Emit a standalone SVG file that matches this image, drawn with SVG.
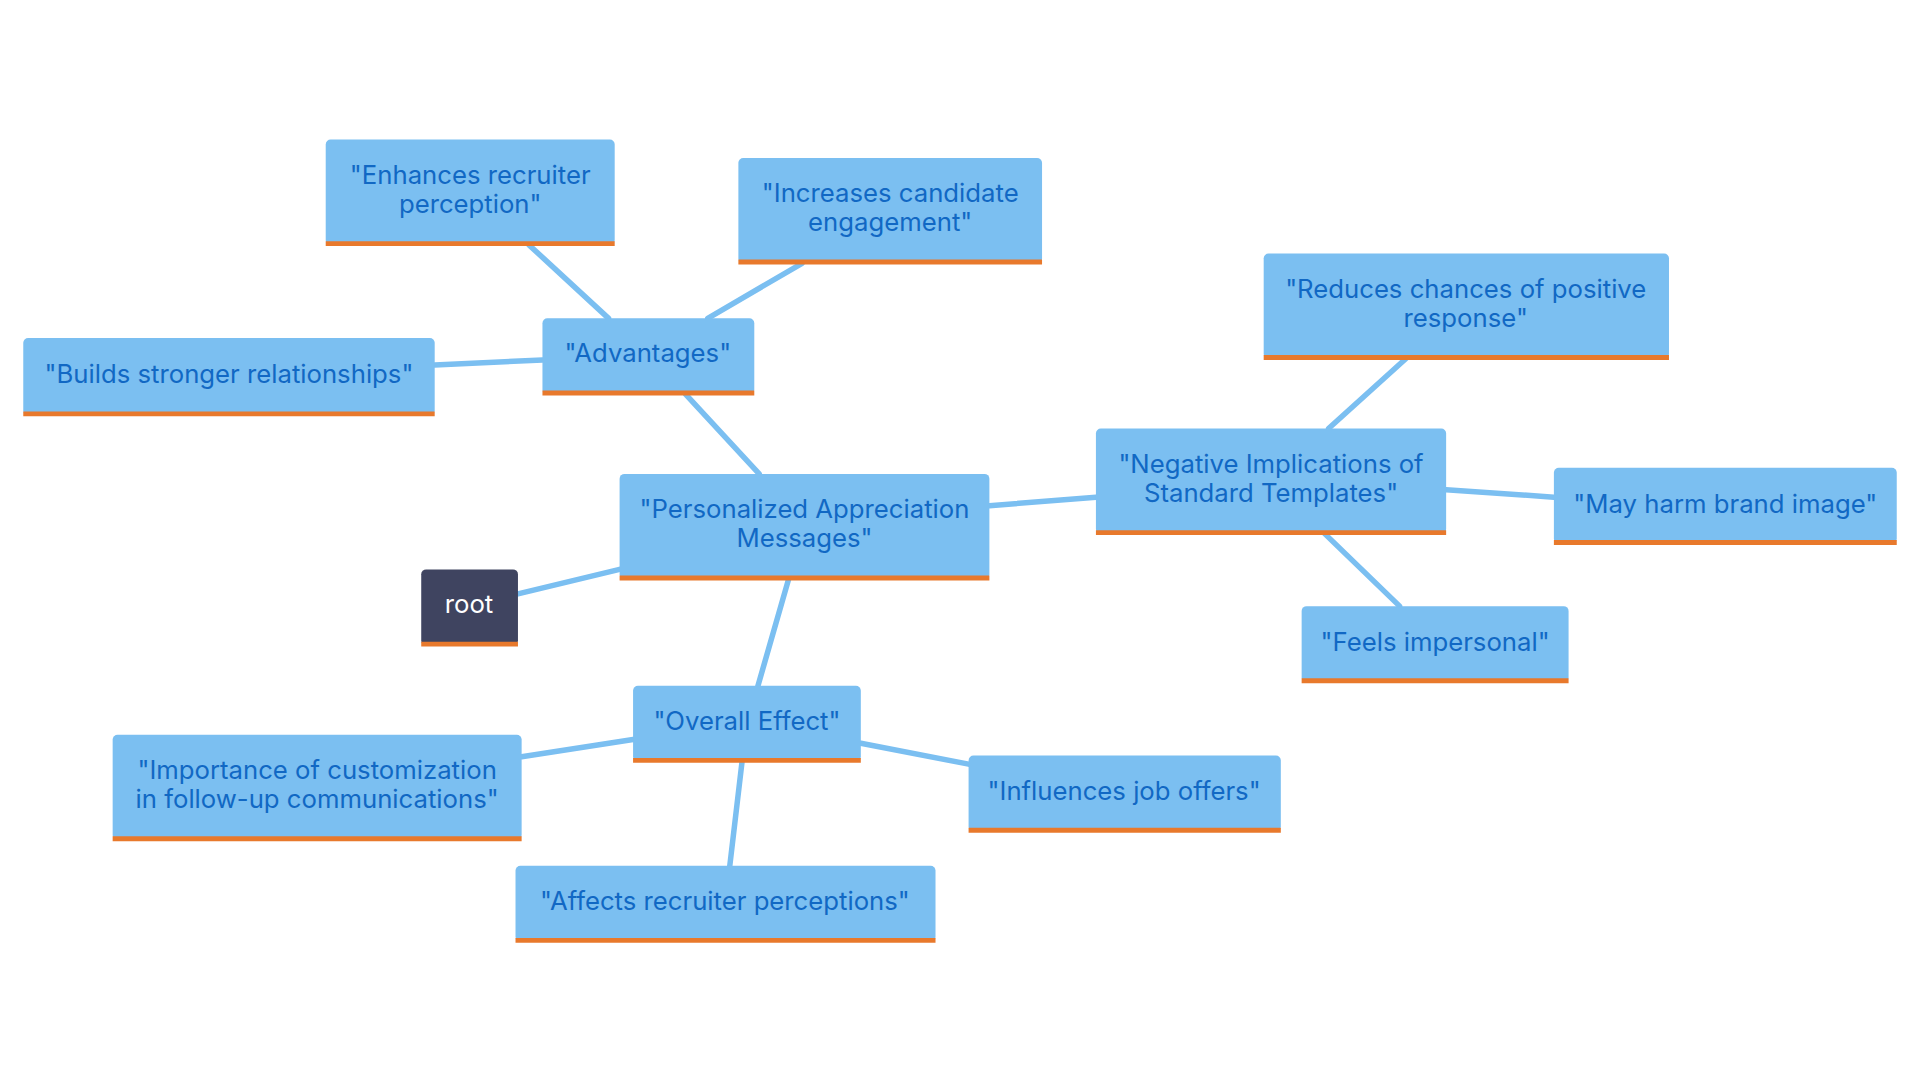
<svg xmlns="http://www.w3.org/2000/svg" width="1920" height="1080" viewBox="0 0 1920 1080">
<style>
.n rect.b{fill:#7bbff1}
.n line{stroke:#e8792c;stroke-width:4}
.n text{font-family:Inter,"Open Sans",sans-serif;font-size:21px;fill:#1168c4;text-anchor:middle}
.c line{stroke:#7bbff1;stroke-width:4.5;stroke-linecap:round}
</style>
<rect width="1920" height="1080" fill="#fff"/>
<g transform="scale(1.2245)">
<g class="c">
<line x1="423" y1="485" x2="506" y2="465"/>
<line x1="620" y1="387" x2="560" y2="322"/>
<line x1="497" y1="260" x2="432" y2="200"/>
<line x1="578" y1="260" x2="655" y2="215"/>
<line x1="443" y1="294" x2="355" y2="298"/>
<line x1="808" y1="413" x2="895" y2="406"/>
<line x1="1085" y1="350" x2="1148" y2="293"/>
<line x1="1181" y1="400" x2="1269" y2="406"/>
<line x1="1082" y1="436" x2="1143" y2="495"/>
<line x1="644" y1="473" x2="619" y2="560"/>
<line x1="517" y1="604" x2="426" y2="618"/>
<line x1="703" y1="607" x2="791" y2="624"/>
<line x1="606" y1="622" x2="596" y2="707"/>
</g>
<g id="enhances" class="n"><rect class="b" x="266" y="114" width="236" height="86" rx="4"/><line x1="266" y1="199" x2="502" y2="199"/><text x="384" y="150">"Enhances recruiter</text><text x="384" y="174">perception"</text></g>
<g id="increases" class="n"><rect class="b" x="603" y="129" width="248" height="86" rx="4"/><line x1="603" y1="214" x2="851" y2="214"/><text x="727" y="165">"Increases candidate</text><text x="727" y="189">engagement"</text></g>
<g id="builds" class="n"><rect class="b" x="19" y="276" width="336" height="63" rx="4"/><line x1="19" y1="338" x2="355" y2="338"/><text x="187" y="313">"Builds stronger relationships"</text></g>
<g id="advantages" class="n"><rect class="b" x="443" y="260" width="173" height="62" rx="4"/><line x1="443" y1="321" x2="616" y2="321"/><text x="529" y="296">"Advantages"</text></g>
<g id="reduces" class="n"><rect class="b" x="1032" y="207" width="331" height="86" rx="4"/><line x1="1032" y1="292" x2="1363" y2="292"/><text x="1197" y="243">"Reduces chances of positive</text><text x="1197" y="267">response"</text></g>
<g id="negative" class="n"><rect class="b" x="895" y="350" width="286" height="86" rx="4"/><line x1="895" y1="435" x2="1181" y2="435"/><text x="1038" y="386">"Negative Implications of</text><text x="1038" y="410">Standard Templates"</text></g>
<g id="mayharm" class="n"><rect class="b" x="1269" y="382" width="280" height="62" rx="4"/><line x1="1269" y1="443" x2="1549" y2="443"/><text x="1409" y="419">"May harm brand image"</text></g>
<g id="feels" class="n"><rect class="b" x="1063" y="495" width="218" height="62" rx="4"/><line x1="1063" y1="556" x2="1281" y2="556"/><text x="1172" y="532">"Feels impersonal"</text></g>
<g id="personalized" class="n"><rect class="b" x="506" y="387" width="302" height="86" rx="4"/><line x1="506" y1="472" x2="808" y2="472"/><text x="657" y="423">"Personalized Appreciation</text><text x="657" y="447">Messages"</text></g>
<g id="root" class="n"><rect x="344" y="465" width="79" height="62" rx="4" fill="#3f4460"/><line x1="344" y1="526" x2="423" y2="526"/><text x="383" y="501" style="fill:#fff">root</text></g>
<g id="overall" class="n"><rect class="b" x="517" y="560" width="186" height="62" rx="4"/><line x1="517" y1="621" x2="703" y2="621"/><text x="610" y="596">"Overall Effect"</text></g>
<g id="importance" class="n"><rect class="b" x="92" y="600" width="334" height="86" rx="4"/><line x1="92" y1="685" x2="426" y2="685"/><text x="259" y="636">"Importance of customization</text><text x="259" y="660">in follow-up communications"</text></g>
<g id="influences" class="n"><rect class="b" x="791" y="617" width="255" height="62" rx="4"/><line x1="791" y1="678" x2="1046" y2="678"/><text x="918" y="653">"Influences job offers"</text></g>
<g id="affects" class="n"><rect class="b" x="421" y="707" width="343" height="62" rx="4"/><line x1="421" y1="768" x2="764" y2="768"/><text x="592" y="743">"Affects recruiter perceptions"</text></g>
</g>
</svg>
